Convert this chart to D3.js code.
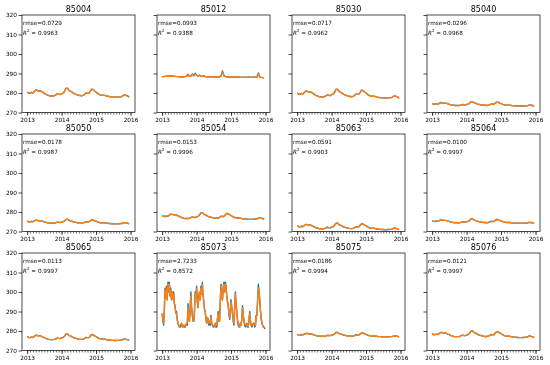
<!DOCTYPE html>
<html><head><meta charset="utf-8">
<script src="https://cdn.jsdelivr.net/npm/d3@7"></script>
<style>body{margin:0;background:#fff}svg{display:block;will-change:transform;transform:translateZ(0)}</style>
</head><body><svg id="c" width="550" height="365"></svg>
<script>
const stations = ["85004","85012","85030","85040","85050","85054","85063","85064","85065","85073","85075","85076"];
const rmseLabels = ["0.0729","0.0993","0.0717","0.0296","0.0178","0.0153","0.0591","0.0100","0.0113","2.7233","0.0186","0.0121"];
const r2Labels = ["0.9963","0.9388","0.9962","0.9968","0.9987","0.9996","0.9903","0.9997","0.9997","0.8572","0.9994","0.9997"];
const yTicks = [270,280,290,300,310,320];
const xTicks = [2013,2014,2015,2016];

// semi-monthly series (72 values, 2013.0 .. 2016.0)
const obs85004 = [280.5,280.0,279.8,280.3,280.0,280.8,281.5,281.3,281.0,281.0,280.8,280.3,279.8,279.3,279.0,278.7,278.5,278.5,278.5,278.6,279.0,279.6,279.3,279.2,279.6,280.0,280.8,282.3,282.5,281.5,281.0,280.6,280.0,279.6,279.3,279.0,278.8,278.7,278.6,278.8,279.3,280.0,279.8,279.9,281.0,282.0,281.7,281.0,280.5,279.8,279.3,279.0,278.8,278.9,278.8,278.5,278.3,278.2,278.1,278.0,278.0,277.9,277.9,278.0,278.0,278.1,278.2,278.8,279.0,278.7,278.5,277.8];
const obs85012 = [288.2,288.4,288.5,288.6,288.7,288.6,288.8,288.7,288.6,288.5,288.4,288.5,288.3,288.2,288.2,288.3,288.4,288.6,289.6,288.5,288.8,289.8,288.9,290.2,289.0,288.7,289.2,288.6,288.5,288.9,288.4,288.3,288.3,288.2,288.4,288.3,288.2,288.2,288.3,288.2,288.3,288.6,291.3,288.8,288.5,288.3,288.2,288.1,288.2,288.3,288.2,288.1,288.2,288.3,288.1,288.0,288.1,288.0,288.1,288.0,288.2,288.1,288.0,288.1,288.3,288.0,288.1,290.3,288.2,288.0,287.9,287.8];
const pred85012 = [288.3,288.4,288.5,288.6,288.6,288.7,288.7,288.6,288.6,288.5,288.4,288.4,288.3,288.2,288.3,288.3,288.4,288.5,289.3,288.6,288.7,289.5,288.8,289.8,289.1,288.6,289.0,288.7,288.5,288.7,288.4,288.3,288.3,288.2,288.3,288.3,288.2,288.2,288.3,288.2,288.4,289.0,290.8,289.2,288.5,288.3,288.2,288.2,288.2,288.3,288.2,288.1,288.2,288.2,288.1,288.1,288.1,288.0,288.1,288.1,288.2,288.1,288.1,288.1,288.3,288.1,288.2,289.7,288.3,288.0,287.9,287.8];
const obs85030 = [280.0,279.5,279.3,279.8,279.5,280.3,281.0,280.8,280.5,280.5,280.3,279.8,279.3,278.8,278.5,278.2,278.0,278.0,278.0,278.1,278.5,279.1,278.8,278.7,279.1,279.5,280.3,281.8,282.0,281.0,280.5,280.1,279.5,279.1,278.8,278.5,278.3,278.2,278.1,278.3,278.8,279.5,279.3,279.4,280.5,281.5,281.2,280.5,280.0,279.3,278.8,278.5,278.3,278.4,278.3,278.0,277.8,277.7,277.6,277.5,277.5,277.4,277.4,277.5,277.5,277.6,277.7,278.3,278.5,278.2,278.0,277.3];
const obs85040 = [274.6,274.3,274.2,274.5,274.3,274.7,275.1,275.0,274.8,274.8,274.7,274.5,274.2,274.0,273.8,273.7,273.6,273.6,273.6,273.6,273.8,274.1,274.0,273.9,274.1,274.3,274.7,275.5,275.6,275.1,274.8,274.6,274.3,274.1,274.0,273.8,273.7,273.7,273.6,273.7,274.0,274.3,274.2,274.3,274.8,275.3,275.2,274.8,274.6,274.2,274.0,273.8,273.7,273.8,273.7,273.6,273.5,273.4,273.4,273.3,273.3,273.3,273.3,273.3,273.3,273.4,273.4,273.7,273.8,273.7,273.6,273.2];
const obs85050 = [275.3,275.0,274.9,275.2,275.0,275.4,275.8,275.7,275.5,275.5,275.4,275.2,274.9,274.7,274.5,274.4,274.3,274.3,274.3,274.3,274.5,274.8,274.7,274.6,274.8,275.0,275.4,276.2,276.3,275.8,275.5,275.3,275.0,274.8,274.7,274.5,274.4,274.4,274.3,274.4,274.7,275.0,274.9,275.0,275.5,276.0,275.9,275.5,275.3,274.9,274.7,274.5,274.4,274.5,274.4,274.3,274.2,274.1,274.1,274.0,274.0,274.0,274.0,274.0,274.0,274.1,274.1,274.4,274.5,274.4,274.3,273.9];
const obs85054 = [278.2,277.8,277.7,278.0,277.8,278.4,278.9,278.8,278.6,278.6,278.4,278.0,277.7,277.3,277.1,276.8,276.7,276.7,276.7,276.8,277.1,277.5,277.3,277.2,277.5,277.8,278.4,279.5,279.7,278.9,278.6,278.2,277.8,277.5,277.3,277.1,276.9,276.8,276.8,276.9,277.3,277.8,277.7,277.7,278.6,279.3,279.1,278.6,278.2,277.7,277.3,277.1,276.9,277.0,276.9,276.7,276.5,276.5,276.4,276.3,276.3,276.2,276.2,276.3,276.3,276.4,276.5,276.9,277.1,276.8,276.7,276.2];
const obs85063 = [272.9,272.5,272.4,272.7,272.5,273.1,273.6,273.5,273.3,273.3,273.1,272.7,272.4,272.0,271.8,271.5,271.4,271.4,271.4,271.5,271.8,272.2,272.0,271.9,272.2,272.5,273.1,274.2,274.4,273.6,273.3,272.9,272.5,272.2,272.0,271.8,271.6,271.5,271.5,271.6,272.0,272.5,272.4,272.4,273.3,274.0,273.8,273.3,272.9,272.4,272.0,271.8,271.6,271.7,271.6,271.4,271.2,271.2,271.1,271.0,271.0,270.9,270.9,271.0,271.0,271.1,271.2,271.6,271.8,271.5,271.4,270.9];
const obs85064 = [275.5,275.2,275.1,275.4,275.2,275.6,276.0,275.9,275.7,275.7,275.6,275.4,275.1,274.9,274.7,274.6,274.5,274.5,274.5,274.5,274.7,275.0,274.9,274.8,275.0,275.2,275.6,276.4,276.5,276.0,275.7,275.5,275.2,275.0,274.9,274.7,274.6,274.6,274.5,274.6,274.9,275.2,275.1,275.2,275.7,276.2,276.1,275.7,275.5,275.1,274.9,274.7,274.6,274.7,274.6,274.5,274.4,274.3,274.3,274.2,274.2,274.2,274.2,274.2,274.2,274.3,274.3,274.6,274.7,274.6,274.5,274.1];
const obs85065 = [277.1,276.7,276.6,276.9,276.7,277.3,277.8,277.7,277.5,277.5,277.3,276.9,276.6,276.2,276.0,275.7,275.6,275.6,275.6,275.7,276.0,276.4,276.2,276.1,276.4,276.7,277.3,278.4,278.6,277.8,277.5,277.1,276.7,276.4,276.2,276.0,275.8,275.7,275.7,275.8,276.2,276.7,276.6,276.6,277.5,278.2,278.0,277.5,277.1,276.6,276.2,276.0,275.8,275.9,275.8,275.6,275.4,275.4,275.3,275.2,275.2,275.1,275.1,275.2,275.2,275.3,275.4,275.8,276.0,275.7,275.6,275.1];
const obs85075 = [278.3,278.0,277.9,278.2,278.0,278.4,278.8,278.7,278.5,278.5,278.4,278.2,277.9,277.7,277.5,277.4,277.3,277.3,277.3,277.3,277.5,277.8,277.7,277.6,277.8,278.0,278.4,279.2,279.3,278.8,278.5,278.3,278.0,277.8,277.7,277.5,277.4,277.4,277.3,277.4,277.7,278.0,277.9,278.0,278.5,279.0,278.9,278.5,278.3,277.9,277.7,277.5,277.4,277.5,277.4,277.3,277.2,277.1,277.1,277.0,277.0,277.0,277.0,277.0,277.0,277.1,277.1,277.4,277.5,277.4,277.3,276.9];
const obs85076 = [278.6,278.2,278.1,278.4,278.2,278.8,279.3,279.2,279.0,279.0,278.8,278.4,278.1,277.7,277.5,277.2,277.1,277.1,277.1,277.2,277.5,277.9,277.7,277.6,277.9,278.2,278.8,279.9,280.1,279.3,279.0,278.6,278.2,277.9,277.7,277.5,277.3,277.2,277.2,277.3,277.7,278.2,278.1,278.1,279.0,279.7,279.5,279.0,278.6,278.1,277.7,277.5,277.3,277.4,277.3,277.1,276.9,276.9,276.8,276.7,276.7,276.6,276.6,276.7,276.7,276.8,276.9,277.3,277.5,277.2,277.1,276.6];
// weekly series for the volatile station (144 values)
const obs85073 = [289,285,283,290,302,297,303,296,305,300,305,298,302,296,300,297,300,294,293,289,290,286,284,283,282,283,282,284,283,282,283,282,282,283,284,283,294,286,285,292,300,292,288,285,285,290,300,297,303,295,292,298,300,296,303,299,305,298,295,291,290,286,284,287,286,283,285,283,288,284,283,282,282,283,284,282,282,286,290,285,285,296,304,298,296,302,305,300,305,303,298,295,293,289,286,290,296,292,289,285,283,292,300,294,290,285,283,282,282,284,283,286,293,288,285,283,282,283,284,282,282,286,290,285,283,282,283,284,284,282,283,288,288,296,304,300,296,290,286,284,283,282,282,281];
const pred85073 = [289,286,284,291,301,297,302,296,304,300,304,298,301,296,300,296,299,294,292,289,289,286,284,283,282,283,283,284,283,282,283,283,282,283,284,284,292,287,285,291,298,292,288,286,285,290,299,297,302,295,292,297,300,296,302,299,304,298,295,291,290,287,284,287,286,284,285,284,287,284,283,283,282,283,284,283,283,286,289,285,285,295,303,298,296,301,304,300,304,302,298,295,293,289,287,290,295,292,289,286,284,292,299,294,290,286,284,283,282,284,283,286,292,288,285,284,283,283,284,283,282,286,289,285,283,283,283,284,284,283,283,288,288,295,302,300,296,290,287,284,283,282,282,282];

const observed = [obs85004,obs85012,obs85030,obs85040,obs85050,obs85054,obs85063,obs85064,obs85065,obs85073,obs85075,obs85076];
const predicted = [obs85004,pred85012,obs85030,obs85040,obs85050,obs85054,obs85063,obs85064,obs85065,pred85073,obs85075,obs85076];

const svg = d3.select("#c");
const colLeft = [22,157,292,427], rowTop = [15,134,253];
const pw = 113, ph = 97.5;
const FONT = "DejaVu Sans, sans-serif";

stations.forEach((name, k) => {
  const col = k % 4, row = Math.floor(k / 4);
  const g = svg.append("g").attr("transform", `translate(${colLeft[col]},${rowTop[row]})`);
  const x = d3.scaleLinear().domain([2012.85, 2016.13]).range([0, pw]);
  const y = d3.scaleLinear().domain([270, 320]).range([ph, 0]);
  const tOf = (arr) => (d, i) => x(2013 + i * 3 / arr.length);

  const obs = observed[k], pred = predicted[k];
  g.append("path").datum(obs).attr("fill","none").attr("stroke","#1f77b4").attr("stroke-width",1.4)
    .attr("stroke-linejoin","round")
    .attr("d", d3.line().x(tOf(obs)).y(d => y(d)));
  g.append("path").datum(pred).attr("fill","none").attr("stroke","#ff7f0e").attr("stroke-width",1.4)
    .attr("stroke-linejoin","round")
    .attr("d", d3.line().x(tOf(pred)).y(d => y(d)));

  // minor ticks (monthly)
  const minor = d3.range(0, 37).map(m => 2013 + m / 12);
  g.append("g").attr("transform", `translate(0,${ph})`)
    .call(d3.axisBottom(x).tickValues(minor).tickSize(2).tickFormat(""))
    .call(a => a.select(".domain").remove())
    .call(a => a.selectAll("line").attr("stroke","#000").attr("stroke-width",0.6));

  const xa = g.append("g").attr("transform", `translate(0,${ph})`)
    .call(d3.axisBottom(x).tickValues(xTicks).tickSize(3.5).tickPadding(1.5).tickFormat(d3.format("d")));
  xa.select(".domain").remove();
  xa.selectAll("line").attr("stroke","#000").attr("stroke-width",0.7);
  xa.selectAll("text").attr("font-family",FONT).attr("font-size",5.8).attr("fill","#000");

  const ya = g.append("g")
    .call(d3.axisLeft(y).tickValues(yTicks).tickSize(3.5).tickPadding(1.5).tickFormat(col === 0 ? d3.format("d") : ""));
  ya.select(".domain").remove();
  ya.selectAll("line").attr("stroke","#000").attr("stroke-width",0.7);
  ya.selectAll("text").attr("font-family",FONT).attr("font-size",5.8).attr("fill","#000");

  g.append("rect").attr("x",0).attr("y",0).attr("width",pw).attr("height",ph)
    .attr("fill","none").attr("stroke","#000").attr("stroke-width",0.7);

  g.append("text").attr("x", pw/2).attr("y", -3).attr("text-anchor","middle")
    .attr("font-family",FONT).attr("font-size",8).attr("fill","#000").text(name);

  g.append("text").attr("x", 1).attr("y", 10).attr("font-family",FONT).attr("font-size",5.7)
    .attr("fill","#000").text("rmse=" + rmseLabels[k]);
  const t2 = g.append("text").attr("x", 1).attr("y", 19.5).attr("font-family",FONT).attr("font-size",5.7).attr("fill","#000");
  t2.append("tspan").attr("font-style","italic").text("R");
  t2.append("tspan").attr("font-size",4).attr("dy",-2.3).text("2");
  t2.append("tspan").attr("dy",2.3).text(" = " + r2Labels[k]);
});
</script></body></html>
